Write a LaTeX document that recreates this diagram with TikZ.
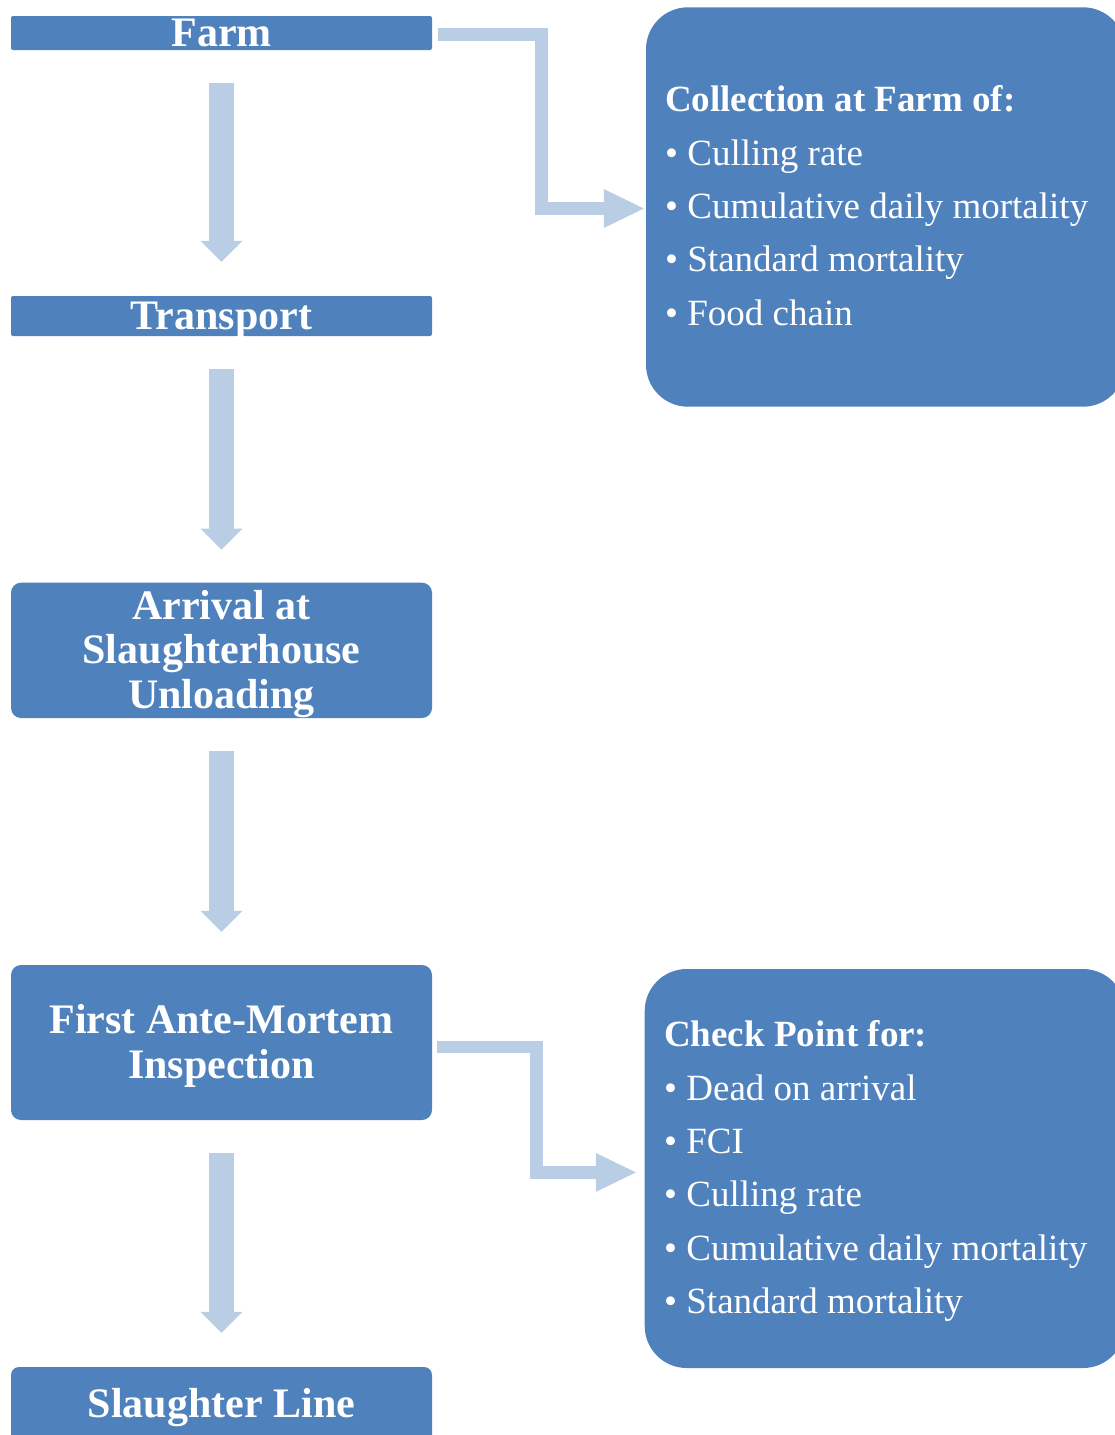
\documentclass[tikz,border=0pt]{standalone}
\usepackage{fontspec}
\setmainfont{Liberation Serif}
\usetikzlibrary{arrows.meta}
\definecolor{boxblue}{HTML}{4F81BD}
\definecolor{arrowblue}{HTML}{B9CDE5}
\begin{document}
\begin{tikzpicture}[x=1pt,y=-1pt,
  stepbox/.style={fill=boxblue, draw=none, inner sep=0pt, minimum width=421pt},
  lefttext/.style={text=white, font=\fontsize{42pt}{44.5pt}\selectfont\bfseries, anchor=base, inner sep=0pt, align=center},
  infobox/.style={fill=boxblue, draw=none, inner sep=0pt, rounded corners=42pt},
  infotext/.style={text=white, font=\fontsize{37pt}{53.4pt}\selectfont, anchor=base west, inner sep=0pt, align=left},
  downarrow/.style={draw=arrowblue, line width=25pt, -{Triangle[length=21pt,width=42pt,line width=0pt]}},
  elbow/.style={draw=arrowblue, line width=13pt, line join=miter, -{Triangle[length=40pt,width=39pt,line width=0pt]}}
]
\useasboundingbox (0,0) rectangle (1115,1435);
\clip (0,0) rectangle (1115,1435);

% left column boxes
\node[stepbox, minimum height=34pt, rounded corners=2pt] (farm) at (221.5,33) {};
\node[stepbox, minimum height=40pt, rounded corners=2pt] (transport) at (221.5,316) {};
\node[stepbox, minimum height=135.3pt, rounded corners=10pt] (arrival) at (221.5,650.35) {};
\node[stepbox, minimum height=155pt, rounded corners=10pt] (first) at (221.5,1042.5) {};
\node[stepbox, minimum height=90pt, rounded corners=8pt] (line) at (221.5,1412) {};

% left labels (base anchor = baseline of the last line)
\node[lefttext] (farmtxt) at (221.5,46) {Farm};
\node[lefttext] (transporttxt) at (221.5,329.3) {Transport};
\node[lefttext] (arrivaltxt) at (221.5,708.3) {Arrival at\\Slaughterhouse\\Unloading};
\node[lefttext] (firsttxt) at (221.5,1078.3) {First Ante-Mortem\\Inspection};
\node[lefttext] (linetxt) at (221.5,1417.3) {Slaughter Line};

% right boxes
\node[infobox, minimum width=479pt, minimum height=399.4pt] (info1) at (885.5,207) {};
\node[infobox, minimum width=480.3pt, minimum height=399pt] (info2) at (884.85,1168.5) {};

\node[infotext] (info1txt) at (665,325.3) {\textbf{Collection at Farm of:}\\• Culling rate\\• Cumulative daily mortality\\• Standard mortality\\• Food chain};
\node[infotext] (info2txt) at (664,1313.7) {\textbf{Check Point for:}\\• Dead on arrival\\• FCI\\• Culling rate\\• Cumulative daily mortality\\• Standard mortality};

% vertical block arrows
\draw[downarrow] ([yshift=-33pt]farm.south) -- ([yshift=34pt]transport.north);
\draw[downarrow] ([yshift=-33pt]transport.south) -- ([yshift=33pt]arrival.north);
\draw[downarrow] ([yshift=-33pt]arrival.south) -- ([yshift=33pt]first.north);
\draw[downarrow] ([yshift=-33pt]first.south) -- ([yshift=34pt]line.north);

% elbow arrows
\coordinate (e1s) at ([xshift=6pt,yshift=-1.5pt]farm.east);
\coordinate (e1t) at ([xshift=-2pt,yshift=-1.5pt]info1.west);
\draw[elbow] (e1s) -- ++(103,0) |- (e1t);
\coordinate (e2s) at ([xshift=5pt,yshift=-4.5pt]first.east);
\coordinate (e2t) at ([xshift=-8.7pt,yshift=-3.9pt]info2.west);
\draw[elbow, line width=12.7pt] (e2s) -- ++(99.5,0) |- (e2t);
\end{tikzpicture}
\end{document}
